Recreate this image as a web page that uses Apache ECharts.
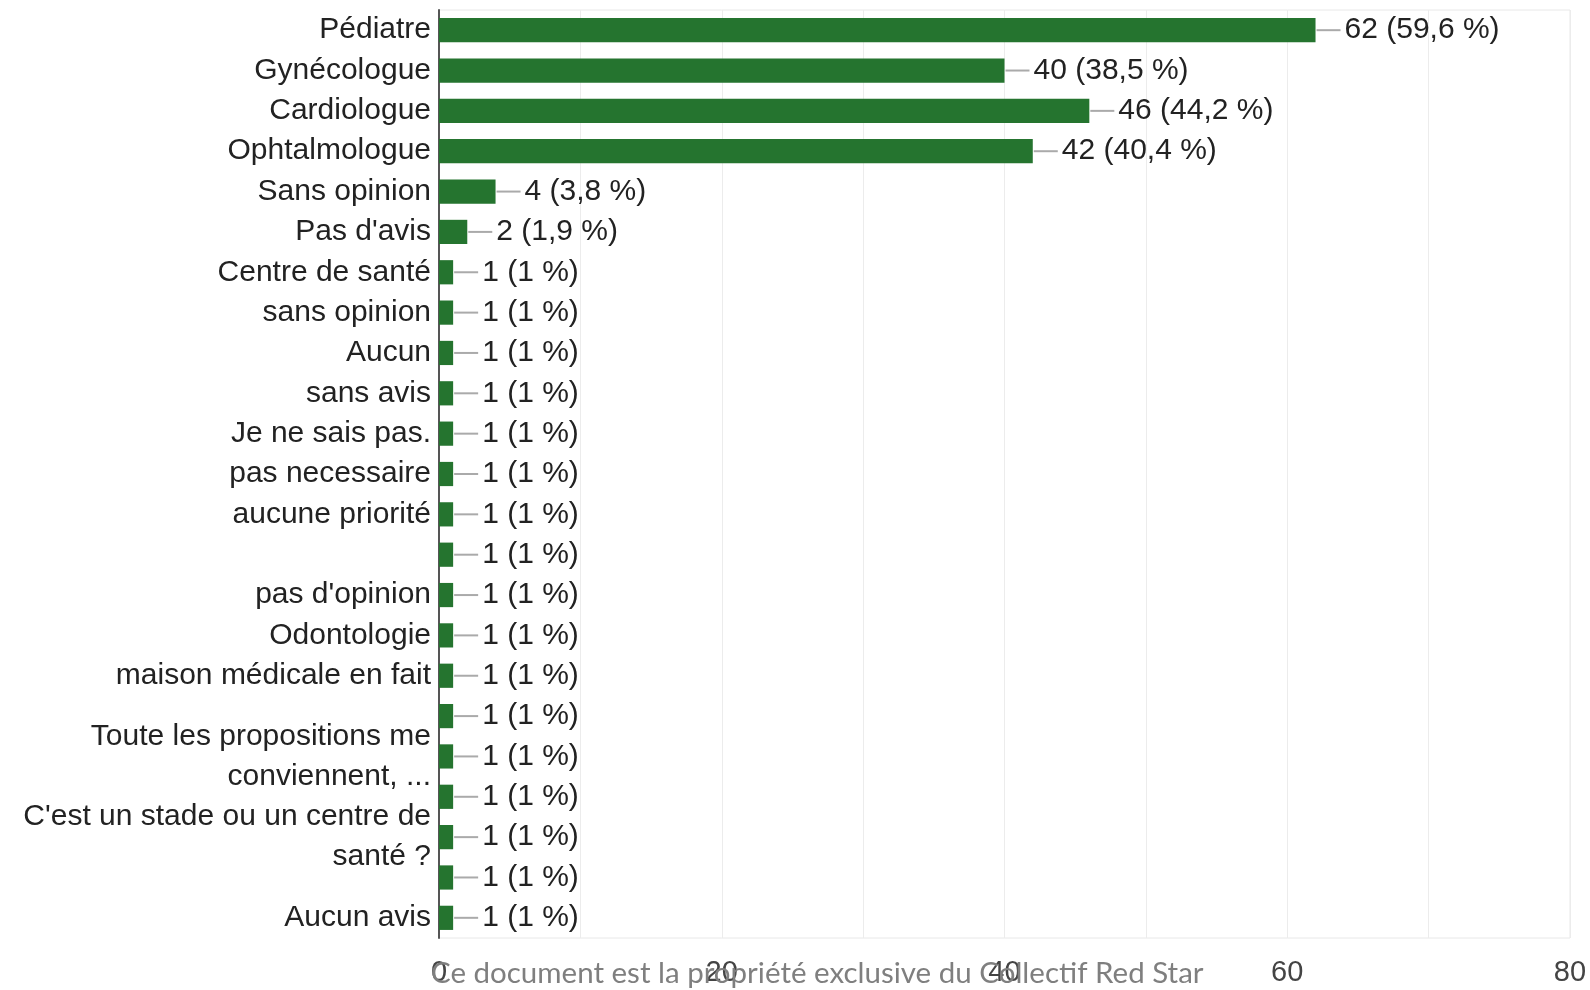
<!DOCTYPE html>
<html>
<head>
<meta charset="utf-8">
<script src="https://cdn.jsdelivr.net/npm/echarts@6/dist/echarts.min.js"></script>
<style>
    html,body{margin:0;padding:0;background:#fff;}
    #chart{width:1590px;height:990px;}
</style>
</head>
<body>
<div id="chart"></div>
<script>
// réponses (de haut en bas)
var categories = [
    'Pédiatre', 'Gynécologue', 'Cardiologue', 'Ophtalmologue', 'Sans opinion',
    "Pas d'avis", 'Centre de santé', 'sans opinion', 'Aucun', 'sans avis',
    'Je ne sais pas.', 'pas necessaire', 'aucune priorité', '', "pas d'opinion",
    'Odontologie', 'maison médicale en fait', '', 'Toute les propositions me\nconviennent, ...',
    '', "C'est un stade ou un centre de\nsanté ?", '', 'Aucun avis'
];
var counts = [62, 40, 46, 42, 4, 2, 1, 1, 1, 1, 1, 1, 1, 1, 1, 1, 1, 1, 1, 1, 1, 1, 1];
var percents = [59.6, 38.5, 44.2, 40.4, 3.8, 1.9, 1, 1, 1, 1, 1, 1, 1, 1, 1, 1, 1, 1, 1, 1, 1, 1, 1];
var xTicks = [0, 20, 40, 60, 80];

var FONT = '"Liberation Sans", Arial, sans-serif';

var chart = echarts.init(document.getElementById('chart'));

var option = {
    animation: false,
    grid: {
        left: 439, right: 20, top: 10, bottom: 52,
        show: true, borderColor: '#e8e8e8', borderWidth: 1
    },
    xAxis: {
        type: 'value',
        min: 0, max: 80, interval: 10,
        axisLine: {show: false},
        axisTick: {show: false},
        splitLine: {lineStyle: {color: '#ececec', width: 1}},
        axisLabel: {
            fontFamily: FONT, fontSize: 29, color: '#444',
            margin: 20, showMinLabel: true, showMaxLabel: true,
            formatter: function (v) {
                return xTicks.indexOf(v) >= 0 ? String(v) : '';
            }
        }
    },
    yAxis: {
        type: 'category',
        inverse: true,
        data: categories,
        axisTick: {show: false},
        axisLine: {lineStyle: {color: '#555', width: 2}},
        axisLabel: {
            interval: 0, margin: 8,
            fontFamily: FONT, fontSize: 30, color: '#222',
            lineHeight: 40
        }
    },
    series: [{
        type: 'bar',
        data: counts,
        barWidth: '60%',
        itemStyle: {color: '#25742f'},
        label: {
            show: true,
            position: 'right',
            distance: 1,
            formatter: function (p) {
                var pc = String(percents[p.dataIndex]).replace('.', ',');
                return '{l|}{t|' + counts[p.dataIndex] + ' (' + pc + ' %)}';
            },
            rich: {
                l: {width: 24, height: 2, backgroundColor: '#aaa', verticalAlign: 'middle'},
                t: {fontFamily: FONT, fontSize: 30, color: '#222', padding: [0, 0, 0, 4]}
            }
        }
    }],
    graphic: [{
        type: 'text',
        z: 100,
        style: {
            x: 431, y: 973,
            text: 'Ce document est la propriété exclusive du Collectif Red Star',
            font: '29.5px Lato',
            fill: '#7f7f7f',
            textVerticalAlign: 'middle'
        }
    }]
};

chart.setOption(option);
</script>
</body>
</html>
